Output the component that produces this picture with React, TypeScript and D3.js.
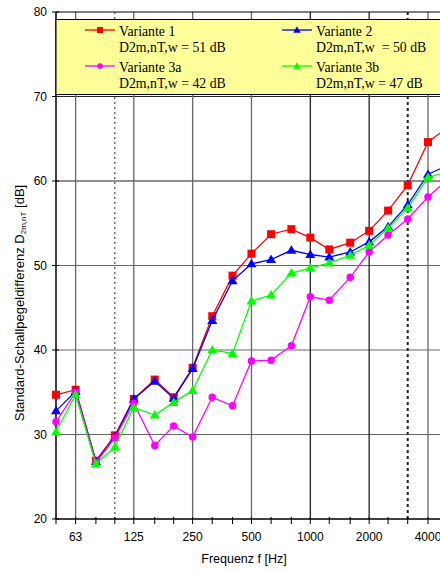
import React, { useRef, useEffect } from 'react';
import * as d3 from 'd3';

const frequencies = [50, 63, 80, 100, 125, 160, 200, 250, 315, 400, 500, 630, 800, 1000, 1250, 1600, 2000, 2500, 3150, 4000, 5000];
const tickLabels = [63, 125, 250, 500, 1000, 2000, 4000];
const dottedFreqs = [100, 3150];
const yTicks = [20, 30, 40, 50, 60, 70, 80];

const variante1 = [34.7, 35.3, 26.9, 29.9, 34.2, 36.5, 34.4, 37.9, 44.0, 48.8, 51.4, 53.7, 54.3, 53.3, 51.9, 52.7, 54.1, 56.5, 59.5, 64.6, 66.3];
const variante2 = [32.8, 35.1, 26.8, 29.7, 34.2, 36.3, 34.3, 37.8, 43.5, 48.2, 50.2, 50.7, 51.8, 51.3, 51.0, 51.6, 52.8, 54.6, 57.2, 60.8, 61.8];
const variante3a = [31.5, 35.0, 26.7, 29.6, 33.7, 28.7, 31.0, 29.7, 34.4, 33.4, 38.7, 38.8, 40.5, 46.3, 45.9, 48.6, 51.6, 53.6, 55.5, 58.1, 60.1];
const variante3b = [30.3, 34.7, 26.5, 28.5, 33.2, 32.3, 33.8, 35.2, 40.0, 39.6, 45.8, 46.5, 49.1, 49.7, 50.3, 51.2, 52.4, 54.4, 56.8, 60.4, 61.1];

const seriesNames = ['Variante 1', 'Variante 2', 'Variante 3a', 'Variante 3b'];
const ratingTexts = ['D2m,nT,w = 51 dB', 'D2m,nT,w  = 50 dB', 'D2m,nT,w = 42 dB', 'D2m,nT,w = 47 dB'];

export default function App() {
	const svgWidth = 440;
	const svgHeight = 571;
	const ref = useRef<SVGSVGElement>(null);

	useEffect(() => {
		if (!ref.current) return;
		const svg = d3.select(ref.current);
		svg.selectAll('*').remove();

		const left = 56;
		const top = 12;
		const bottom = 519;

		const x = d3.scaleLog().domain([50, 4000]).range([left, 428]);
		const y = d3.scaleLinear().domain([20, 80]).range([bottom, top]);

		const series = [
			{ data: variante1, color: '#ff0000', marker: 'square' },
			{ data: variante2, color: '#0000ff', marker: 'triangle' },
			{ data: variante3a, color: '#ff00ff', marker: 'diamond' },
			{ data: variante3b, color: '#00ff00', marker: 'triangle' },
		];

		/* grid */
		const grid = svg.append('g');
		yTicks.filter((t) => t > 20 && t < 80).forEach((t) => {
			grid.append('line')
				.attr('x1', left).attr('x2', svgWidth)
				.attr('y1', y(t)).attr('y2', y(t))
				.attr('stroke', t >= 60 ? '#222' : '#666').attr('stroke-width', 1.2);
		});
		tickLabels.forEach((f) => {
			grid.append('line')
				.attr('x1', x(f)).attr('x2', x(f))
				.attr('y1', top).attr('y2', bottom)
				.attr('stroke', f === 1000 || f === 2000 ? '#222' : '#666').attr('stroke-width', 1.3);
		});
		dottedFreqs.forEach((f, i) => {
			grid.append('line')
				.attr('x1', x(f)).attr('x2', x(f))
				.attr('y1', top).attr('y2', bottom)
				.attr('stroke', '#222')
				.attr('stroke-width', i === 0 ? 1 : 2)
				.attr('stroke-dasharray', i === 0 ? '2,3' : '3,3');
		});

		/* frame / axes */
		svg.append('line').attr('x1', left).attr('x2', svgWidth).attr('y1', top).attr('y2', top).attr('stroke', '#000').attr('stroke-width', 1.2);
		svg.append('line').attr('x1', left).attr('x2', svgWidth).attr('y1', bottom).attr('y2', bottom).attr('stroke', '#000').attr('stroke-width', 1.5);
		svg.append('line').attr('x1', left).attr('x2', left).attr('y1', top).attr('y2', bottom).attr('stroke', '#000').attr('stroke-width', 1.5);

		yTicks.forEach((t) => {
			svg.append('line').attr('x1', left - 4).attr('x2', left + 3).attr('y1', y(t)).attr('y2', y(t)).attr('stroke', '#000');
			svg.append('text')
				.attr('x', left - 9).attr('y', y(t) + 4)
				.attr('text-anchor', 'end')
				.style('font-family', 'Liberation Sans, Arial, sans-serif')
				.style('font-size', '12px')
				.text(t);
		});
		frequencies.forEach((f) => {
			svg.append('line').attr('x1', x(f)).attr('x2', x(f)).attr('y1', bottom - 2).attr('y2', bottom + 5).attr('stroke', '#000');
		});
		tickLabels.forEach((f) => {
			svg.append('text')
				.attr('x', x(f)).attr('y', 541)
				.attr('text-anchor', 'middle')
				.style('font-family', 'Liberation Sans, Arial, sans-serif')
				.style('font-size', '12px')
				.text(f);
		});

		/* legend box */
		const legend = svg.append('g');
		legend.append('rect')
			.attr('x', left).attr('y', 19.5)
			.attr('width', svgWidth).attr('height', 75)
			.attr('fill', '#ffff99').attr('stroke', '#000').attr('stroke-width', 1);

		const drawMarker = (g, cx, cy, kind, color, s = 1) => {
			if (kind === 'square') {
				g.append('rect').attr('x', cx - 4 * s).attr('y', cy - 4 * s).attr('width', 8 * s).attr('height', 8 * s).attr('fill', color);
			} else if (kind === 'triangle') {
				g.append('path').attr('d', `M${cx},${cy - 5 * s}L${cx + 5 * s},${cy + 3.5 * s}L${cx - 5 * s},${cy + 3.5 * s}Z`).attr('fill', color);
			} else {
				g.append('path').attr('d', d3.symbol().type(d3.symbolCircle).size(44 * s * s)()).attr('transform', `translate(${cx},${cy})`).attr('fill', color);
			}
		};

		/* data lines */
		const line = d3
			.line<number>()
			.x((d, i) => x(frequencies[i]))
			.y((d) => y(d));

		series.forEach((s) => {
			const g = svg.append('g');
			g.append('path').datum(s.data).attr('d', line).attr('fill', 'none').attr('stroke', s.color).attr('stroke-width', 1.3);
			s.data.forEach((v, i) => drawMarker(g, x(frequencies[i]), y(v), s.marker, s.color));
		});

		// legend drawn over the data
		legend.raise();
		const colX = [85, 282];
		const rowY = [30, 66];
		series.forEach((s, i) => {
			const lx = colX[i % 2];
			const ly = rowY[Math.floor(i / 2)];
			legend.append('line').attr('x1', lx).attr('x2', lx + 30).attr('y1', ly).attr('y2', ly).attr('stroke', s.color).attr('stroke-width', 1.3);
			drawMarker(legend, lx + 15, ly, s.marker, s.color, 0.75);
			legend.append('text')
				.attr('x', lx + 34).attr('y', ly + 5.5)
				.style('font-family', 'Liberation Serif, Times New Roman, serif')
				.style('font-size', '13.8px')
				.text(seriesNames[i]);
			legend.append('text')
				.attr('x', lx + 34).attr('y', ly + 22)
				.style('font-family', 'Liberation Serif, Times New Roman, serif')
				.style('font-size', '13.8px')
				.style('white-space', 'pre')
				.text(ratingTexts[i]);
		});

		/* axis titles */
		svg.append('text')
			.attr('x', 244).attr('y', 563)
			.attr('text-anchor', 'middle')
			.style('font-family', 'Liberation Sans, Arial, sans-serif')
			.style('font-size', '12.5px')
			.text('Frequenz f [Hz]');

		const yLabel = svg.append('text')
			.attr('transform', 'translate(24,303) rotate(-90)')
			.attr('text-anchor', 'middle')
			.style('font-family', 'Liberation Sans, Arial, sans-serif')
			.style('font-size', '13px');
		yLabel.append('tspan').text('Standard-Schallpegeldifferenz  D');
		yLabel.append('tspan').attr('dy', 2).style('font-size', '8px').text('2m,nT');
		yLabel.append('tspan').attr('dy', -2).text(' [dB]');
	}, []);

	return (
		<svg
			ref={ref}
			width={svgWidth}
			height={svgHeight}
			style={{ position: 'fixed', left: 0, top: 0, background: '#fff' }}
		/>
	);
}
